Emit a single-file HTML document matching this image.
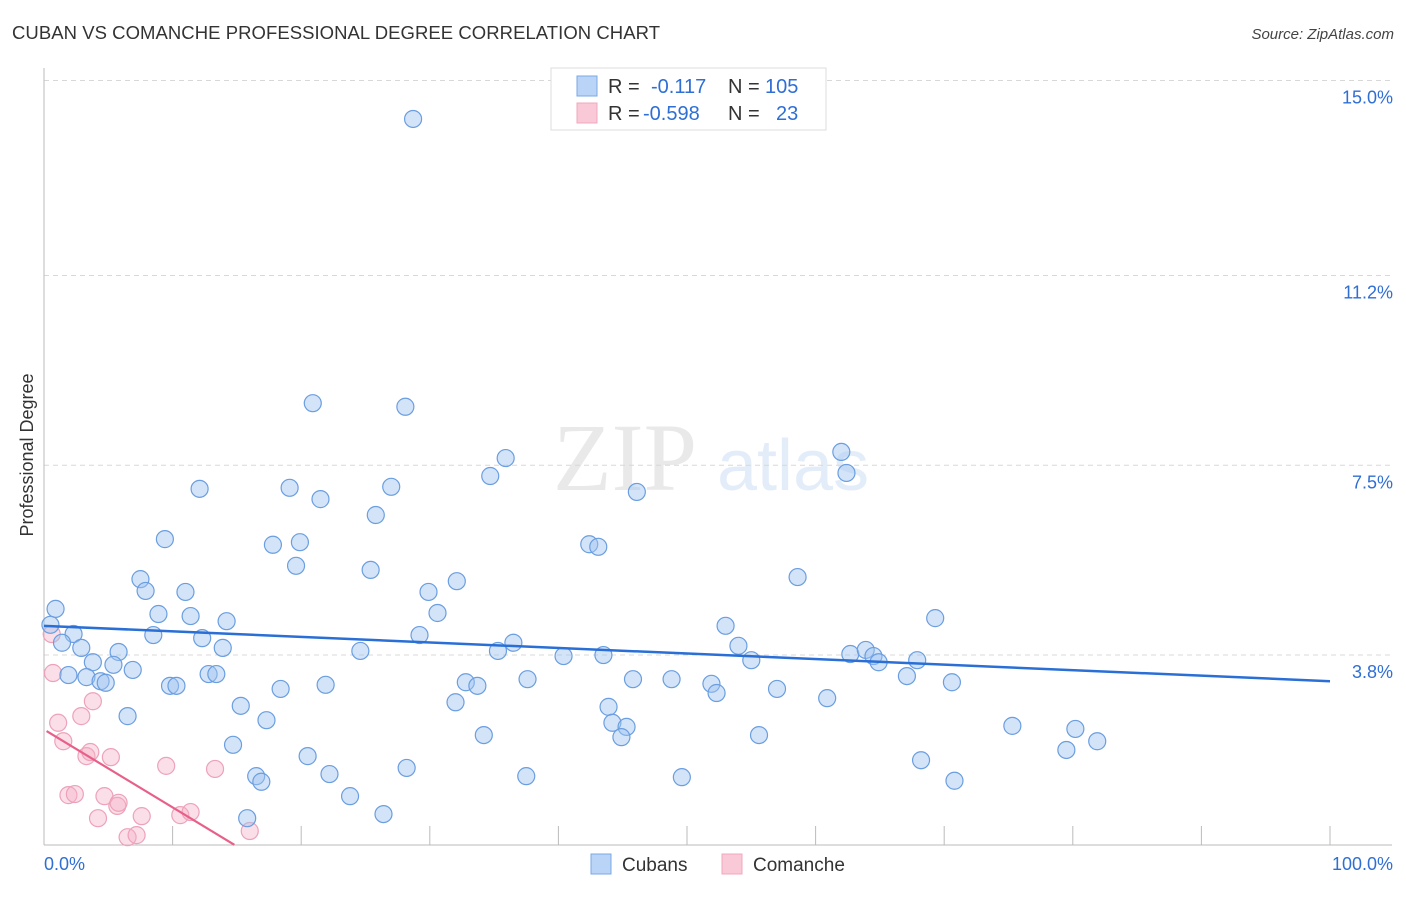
<!DOCTYPE html>
<html><head><meta charset="utf-8"><style>
body{margin:0;background:#fff;font-family:"Liberation Sans",sans-serif}
</style></head><body>
<svg id="chart" width="1406" height="892" xmlns="http://www.w3.org/2000/svg" font-family="Liberation Sans, sans-serif">
<text x="12" y="39" font-size="18.5" fill="#333" textLength="648">CUBAN VS COMANCHE PROFESSIONAL DEGREE CORRELATION CHART</text>
<text x="1394" y="39" font-size="15" fill="#444" font-style="italic" text-anchor="end">Source: ZipAtlas.com</text>
<g opacity="0.18">
<text x="553" y="490" font-size="96" font-family="Liberation Serif, serif" fill="#888">ZIP</text>
<text x="717" y="490" font-size="72" fill="#6a9ee0">atlas</text>
</g>
<g id="grid"></g>
<g id="axes"></g>
<g id="pts"></g>
<text transform="translate(33,455) rotate(-90)" font-size="18" fill="#333" text-anchor="middle">Professional Degree</text>
<g>
<rect x="551" y="68" width="275" height="62" fill="#fff" stroke="#ddd"/>
<rect x="577" y="76" width="20" height="20" fill="#b9d4f6" stroke="#7aa8e6"/>
<rect x="577" y="103" width="20" height="20" fill="#f9c9d7" stroke="#f0a8bd"/>
<text x="608" y="93" font-size="20" fill="#333">R =</text>
<text x="651" y="93" font-size="20" fill="#2f6fd4">-0.117</text>
<text x="728" y="93" font-size="20" fill="#333">N =</text>
<text x="765" y="93" font-size="20" fill="#2f6fd4">105</text>
<text x="608" y="120" font-size="20" fill="#333">R =</text>
<text x="643" y="120" font-size="20" fill="#2f6fd4">-0.598</text>
<text x="728" y="120" font-size="20" fill="#333">N =</text>
<text x="776" y="120" font-size="20" fill="#2f6fd4">23</text>
</g>
<g>
<rect x="591" y="854" width="20" height="20" fill="#b9d4f6" stroke="#7aa8e6"/>
<text x="622" y="871" font-size="19" fill="#333">Cubans</text>
<rect x="722" y="854" width="20" height="20" fill="#f9c9d7" stroke="#f0a8bd"/>
<text x="753" y="871" font-size="19" fill="#333">Comanche</text>
</g>
</svg>
<script>
const yTicks=[3.8,7.5,11.2,15.0];
const yTickLabels=["3.8%","7.5%","11.2%","15.0%"];
const xTickLabels=["0.0%","100.0%"];
const cubanX=[28.7,20.9,28.1,35.9,34.7,62.0,62.4,12.1,19.1,21.5,27.0,46.1,25.8,9.4,17.8,19.9,19.6,42.4,43.1,25.4,7.5,7.9,11.0,32.1,29.9,58.6,8.9,11.4,14.2,30.6,69.3,0.9,0.5,2.3,8.5,12.3,29.2,53.0,1.4,2.9,5.8,13.9,24.6,36.5,35.3,54.0,40.4,43.5,62.7,63.9,64.5,64.9,67.9,55.0,3.8,5.4,6.9,1.9,3.3,4.4,4.8,12.8,13.4,9.8,10.3,18.4,21.9,32.8,33.7,37.6,45.8,48.8,51.9,52.3,57.0,67.1,70.6,32.0,15.3,43.9,60.9,6.5,17.3,44.2,45.3,75.3,80.2,34.2,44.9,55.6,81.9,79.5,14.7,20.5,68.2,28.2,22.2,16.5,16.9,37.5,49.6,70.8,23.8,15.8,26.4];
const cubanY=[14.25,8.71,8.64,7.64,7.29,7.76,7.35,7.04,7.06,6.84,7.08,6.98,6.53,6.06,5.95,6.00,5.54,5.96,5.91,5.46,5.28,5.05,5.03,5.24,5.03,5.32,4.60,4.56,4.46,4.62,4.52,4.70,4.39,4.21,4.19,4.13,4.19,4.37,4.04,3.94,3.86,3.94,3.88,4.04,3.88,3.98,3.78,3.80,3.82,3.90,3.78,3.66,3.70,3.70,3.66,3.61,3.51,3.41,3.37,3.29,3.26,3.43,3.43,3.20,3.20,3.14,3.22,3.27,3.20,3.33,3.33,3.33,3.24,3.06,3.14,3.39,3.27,2.88,2.81,2.79,2.96,2.61,2.53,2.48,2.40,2.42,2.36,2.24,2.20,2.24,2.12,1.95,2.05,1.83,1.75,1.60,1.48,1.44,1.33,1.44,1.42,1.35,1.05,0.62,0.70];
const comX=[0.6,0.7,1.1,1.5,2.9,3.8,3.3,3.6,5.2,9.5,13.3,1.9,2.4,4.7,5.7,5.8,7.6,4.2,6.5,7.2,10.6,11.4,16.0];
const comY=[4.21,3.45,2.48,2.12,2.61,2.90,1.83,1.91,1.81,1.64,1.58,1.07,1.09,1.05,0.86,0.92,0.66,0.62,0.25,0.29,0.68,0.74,0.37];
const cubanTrend=[4.37,3.29];
const comTrend=[2.35,-0.152];

const NS="http://www.w3.org/2000/svg";
const X0=44,X1=1330,YB=845;
const sx=v=>X0+(X1-X0)*v/100;
const sy=v=>850-51.3*v;
function mk(tag,attrs,parent){const e=document.createElementNS(NS,tag);for(const k in attrs)e.setAttribute(k,attrs[k]);parent.appendChild(e);return e;}
const grid=document.getElementById('grid'),axes=document.getElementById('axes'),pts=document.getElementById('pts');
yTicks.forEach((t,i)=>{
 const l=mk('line',{x1:X0,x2:1392,y1:sy(t),y2:sy(t),stroke:'#d8d8d8','stroke-dasharray':'5,4'},grid);
 
 
 const tx=mk('text',{x:1393,y:sy(t)+23,'font-size':18,fill:'#2f6fd4','text-anchor':'end'},axes);
 tx.textContent=yTickLabels[i];
 
 
});
const ya=mk('line',{x1:X0,x2:X0,y1:68,y2:YB,stroke:'#bbb'},axes);


const xa=mk('line',{x1:X0,x2:1392,y1:YB,y2:YB,stroke:'#bbb'},axes);


for(let i=1;i<=10;i++){
 const t=mk('line',{x1:sx(i*10),x2:sx(i*10),y1:YB,y2:826,stroke:'#bbb'},axes);
 
 
}
const xl0=mk('text',{x:44,y:870,'font-size':18,fill:'#2f6fd4'},axes);xl0.textContent=xTickLabels[0];


const xl1=mk('text',{x:1393,y:870,'font-size':18,fill:'#2f6fd4','text-anchor':'end'},axes);xl1.textContent=xTickLabels[1];


comX.forEach((x,i)=>{
 const c=mk('circle',{cx:sx(x),cy:sy(comY[i]),r:8.5,fill:'rgba(245,175,198,0.4)',stroke:'#eda2b9','stroke-width':1.2},pts);
 
 
});
cubanX.forEach((x,i)=>{
 const c=mk('circle',{cx:sx(x),cy:sy(cubanY[i]),r:8.5,fill:'rgba(160,196,240,0.45)',stroke:'#6a9ee0','stroke-width':1.2},pts);
 
 
});
const bl=mk('line',{x1:sx(0),y1:sy(cubanTrend[0]),x2:sx(100),y2:sy(cubanTrend[1]),stroke:'#2a6fd6','stroke-width':2.5},pts);


const xe=(0.1-comTrend[0])/comTrend[1];
const pl=mk('line',{x1:sx(0.2),y1:sy(comTrend[0]+comTrend[1]*0.2),x2:sx(xe),y2:sy(0.1),stroke:'#e8608a','stroke-width':2.2},pts);


</script>
</body></html>
